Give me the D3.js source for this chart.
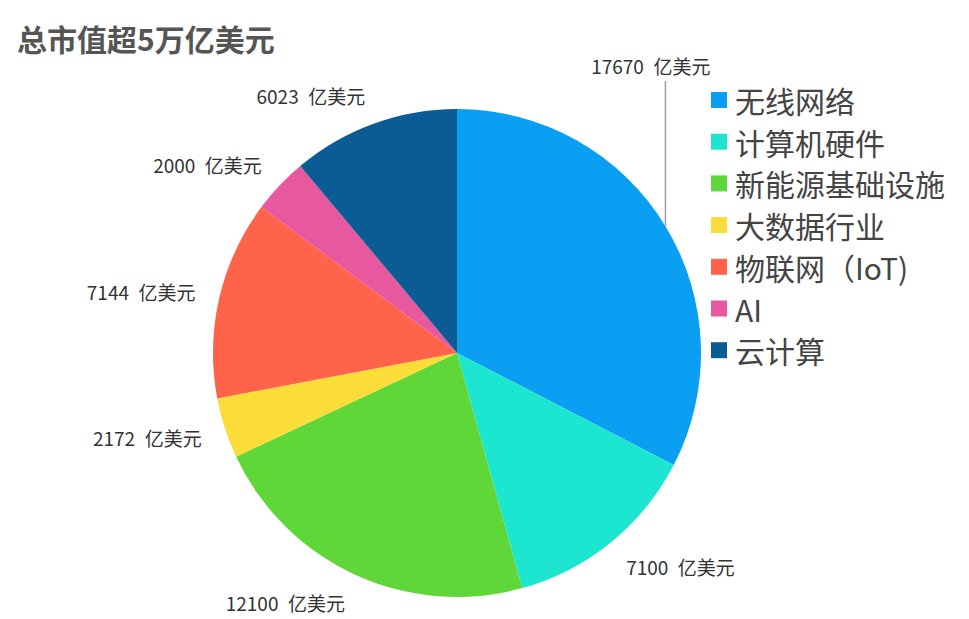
<!DOCTYPE html>
<html><head><meta charset="utf-8">
<script src="https://cdn.jsdelivr.net/npm/d3@7"></script>
<style>
html,body{margin:0;padding:0;background:#fff;}
text{font-family:"Noto Sans CJK SC","Noto Sans",sans-serif;}
</style></head>
<body>
<svg id="chart" width="969" height="619"></svg>
<script>
const title = "总市值超5万亿美元";
const categories = ["无线网络","计算机硬件","新能源基础设施","大数据行业","物联网（IoT)","AI","云计算"];
const values = [17670, 7100, 12100, 2172, 7144, 2000, 6023];
const colors = ["#0a9ff3","#1de6d0","#5fd738","#fbdd3a","#ff634a","#e8589f","#0b5c95"];
const unit = "亿美元";

const svg = d3.select("#chart");
const cx = 457, cy = 353, R = 244;

svg.append("text").attr("x",17).attr("y",38).attr("dominant-baseline","central")
  .attr("font-size",30).attr("font-weight","bold").attr("fill","#555").text(title);

const data = categories.map((c,i)=>({name:c,value:values[i],color:colors[i]}));
const pie = d3.pie().sort(null).value(d=>d.value);
const arcs = pie(data);
const arc = d3.arc().innerRadius(0).outerRadius(R);
const g = svg.append("g").attr("transform",`translate(${cx},${cy})`);
g.selectAll("path").data(arcs).join("path").attr("d",arc).attr("fill",d=>d.data.color);

// labels
const labelR = R*1.1;
arcs.forEach((a,i)=>{
  const mid = (a.startAngle+a.endAngle)/2;
  const sx = Math.sin(mid), sy = -Math.cos(mid);
  const txt = a.data.value + "\u2002" + unit;
  if(i===0){
    const px = R*sx, py = R*sy;
    const ty = 65 - cy;
    g.append("line").attr("x1",px).attr("y1",py).attr("x2",px).attr("y2",ty+16)
      .attr("stroke","#a0a0a0").attr("stroke-width",1.5);
    g.append("text").attr("x",px+45).attr("y",ty).attr("text-anchor","end")
      .attr("dominant-baseline","central").attr("font-size",19).attr("fill","#333").text(txt);
  } else {
    const x = labelR*sx, y = labelR*sy + 6*sy;
    g.append("text").attr("x",x).attr("y",y)
      .attr("text-anchor", sx<0?"end":"start")
      .attr("dominant-baseline","central").attr("font-size",19).attr("fill","#333").text(txt);
  }
});

// legend
const lg = svg.append("g").attr("transform","translate(711,100)");
const rowH = 41.7;
data.forEach((d,i)=>{
  const row = lg.append("g").attr("transform",`translate(0,${i*rowH})`);
  row.append("rect").attr("x",0).attr("y",-8).attr("width",16).attr("height",16).attr("fill",d.color);
  row.append("text").attr("x",24).attr("y",0).attr("dominant-baseline","central")
    .attr("font-size",30).attr("fill","#444").text(d.name);
});
</script>
</body></html>
